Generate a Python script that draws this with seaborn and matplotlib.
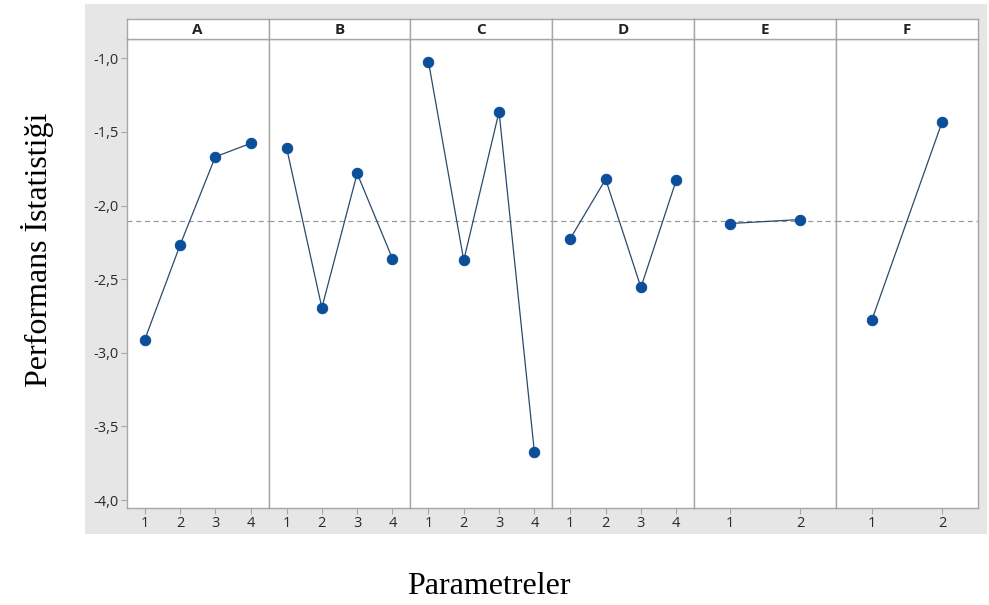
import pandas as pd
import numpy as np
import matplotlib
matplotlib.use('Agg')
import matplotlib.pyplot as plt
import seaborn as sns
from matplotlib.patches import Rectangle
from matplotlib.ticker import FuncFormatter

# main effects data
params = ['A', 'B', 'C', 'D', 'E', 'F']
A_vals = [-2.912, -2.270, -1.669, -1.578]
B_vals = [-1.608, -2.694, -1.782, -2.361]
C_vals = [-1.023, -2.372, -1.363, -3.671]
D_vals = [-2.224, -1.821, -2.556, -1.828]
E_vals = [-2.122, -2.095]
F_vals = [-2.776, -1.431]
grand_mean = -2.108
y_ticks = [-1.0, -1.5, -2.0, -2.5, -3.0, -3.5, -4.0]

rows = []
for p, vals in zip(params, [A_vals, B_vals, C_vals, D_vals, E_vals, F_vals]):
    for i, v in enumerate(vals):
        rows.append({'param': p, 'level': i + 1, 'value': v})
df = pd.DataFrame(rows)

sns.set_style('white')
plt.rcParams['font.family'] = ['Open Sans', 'DejaVu Sans']

W, H = 989, 605
fig = plt.figure(figsize=(W / 100, H / 100), dpi=100, facecolor='white')
fig.patches.append(Rectangle((85 / W, 1 - 534 / H), (987 - 85) / W, (534 - 4) / H,
                             transform=fig.transFigure, facecolor='#e6e6e6',
                             edgecolor='none', zorder=-10))

left, right = 126.7 / W, 978 / W
strip_top, strip_bot = 1 - 19.3 / H, 1 - 39.3 / H
bottom = 1 - 507.7 / H
pw = (right - left) / len(params)

spine_col = '#a6a6a6'
line_col = '#2b4a6b'
dot_col = '#0b4f9a'

for k, p in enumerate(params):
    x0 = left + k * pw
    ax = fig.add_axes([x0, bottom, pw, strip_bot - bottom])
    sub = df[df['param'] == p]
    n = len(sub)
    ax.axhline(grand_mean, color='#9a9a9a', lw=0.9, dashes=(4, 3), zorder=1)
    sns.lineplot(data=sub, x='level', y='value', ax=ax, color=line_col, lw=0.9,
                 marker='o', markersize=7.5, markerfacecolor=dot_col,
                 markeredgecolor=dot_col, zorder=3)
    ax.set_xlim(0.49, n + 0.51)
    ax.set_ylim(-4.052, -0.871)
    ax.set_xticks(range(1, n + 1))
    ax.set_xlabel('')
    ax.set_ylabel('')
    ax.set_facecolor('white')
    for s in ax.spines.values():
        s.set_color(spine_col)
        s.set_linewidth(1.0)
    ax.tick_params(axis='x', length=4, width=0.8, color=spine_col, labelsize=10.5,
                   labelcolor='#2a2a2a', pad=2, bottom=True)
    if k == 0:
        ax.set_yticks(y_ticks)
        ax.yaxis.set_major_formatter(FuncFormatter(lambda v, pos: f'{v:.1f}'.replace('.', ',')))
        ax.tick_params(axis='y', length=4, width=0.8, color=spine_col, labelsize=10.5,
                       labelcolor='#2a2a2a', pad=2, left=True)
    else:
        ax.set_yticks(y_ticks)
        ax.tick_params(axis='y', left=False, labelleft=False)

    sax = fig.add_axes([x0, strip_bot, pw, strip_top - strip_bot])
    sax.set_facecolor('white')
    sax.set_xticks([])
    sax.set_yticks([])
    for s in sax.spines.values():
        s.set_color(spine_col)
        s.set_linewidth(1.0)
    sax.text(0.5, 0.45, p, ha='center', va='center', fontsize=11,
             fontweight='bold', color='#222222', transform=sax.transAxes)

fig.text(489 / W, 1 - 587 / H, 'Parametreler', ha='center', va='center',
         fontsize=23, family='Liberation Serif', color='black')
fig.text(38 / W, 1 - 250 / H, 'Performans İstatistiği', ha='center', va='center',
         rotation=90, fontsize=23, family='Liberation Serif', color='black')

fig.savefig('out.png', dpi=100, facecolor='white')
